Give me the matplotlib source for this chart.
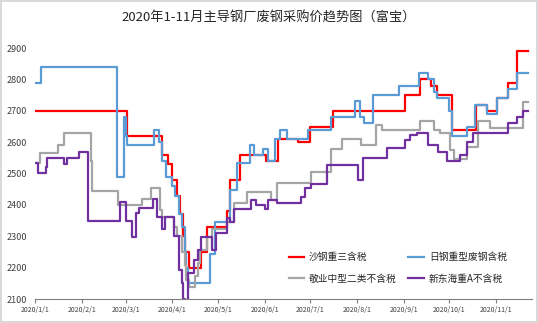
import matplotlib
matplotlib.use('Agg')
import matplotlib.pyplot as plt
import matplotlib.dates as mdates
from matplotlib.ticker import FuncFormatter
import numpy as np

plt.rcParams['font.family'] = ['Noto Sans CJK SC', 'DejaVu Sans']

# days since 2020-01-01 where the price changes, and the new price
sg_days = [0, 61, 84, 88, 91, 94, 96, 98, 99, 102, 110, 114, 127, 129, 136, 153, 161, 174, 182,
           197, 245, 255, 262, 266, 276, 292, 299, 306, 313, 319, 326]
sg_vals = [2700, 2620, 2560, 2530, 2480, 2430, 2370, 2300, 2250, 2200, 2250, 2330, 2380, 2480, 2560,
           2540, 2610, 2600, 2650, 2700, 2750, 2800, 2780, 2750, 2640, 2720, 2700, 2740, 2790, 2890, 2890]

rg_days = [0, 4, 54, 59, 60, 61, 79, 82, 84, 87, 91, 93, 95, 97, 99, 100, 101, 113, 116, 119, 129,
           134, 142, 145, 151, 154, 159, 162, 167, 181, 196, 212, 215, 218, 224, 241, 254, 260, 264,
           266, 274, 276, 286, 291, 299, 306, 313, 319, 326]
rg_vals = [2790, 2840, 2490, 2680, 2620, 2590, 2640, 2600, 2540, 2490, 2460, 2430, 2370, 2330, 2250,
           2200, 2150, 2150, 2245, 2346, 2447, 2533, 2590, 2560, 2580, 2540, 2610, 2640, 2610, 2640,
           2680, 2730, 2680, 2660, 2750, 2780, 2820, 2800, 2760, 2740, 2700, 2620, 2650, 2720, 2690,
           2740, 2770, 2820, 2820]

jy_days = [0, 3, 15, 19, 37, 38, 55, 71, 77, 83, 84, 92, 94, 97, 99, 100, 102, 106, 108, 109, 114,
           117, 127, 132, 140, 156, 160, 183, 196, 203, 216, 226, 230, 255, 264, 268, 275, 277, 286,
           293, 301, 323, 326]
jy_vals = [2535, 2565, 2590, 2630, 2540, 2443, 2400, 2420, 2453, 2384, 2363, 2330, 2300, 2250, 2210,
           2160, 2137, 2174, 2216, 2256, 2298, 2325, 2345, 2405, 2440, 2415, 2470, 2505, 2580, 2610,
           2592, 2654, 2638, 2667, 2640, 2628, 2575, 2548, 2585, 2667, 2646, 2728, 2728]

xdh_days = [0, 2, 7, 8, 19, 21, 29, 35, 56, 60, 64, 67, 69, 78, 81, 84, 86, 92, 95, 97, 98, 99, 101,
            105, 108, 110, 117, 120, 127, 129, 132, 143, 146, 152, 154, 160, 176, 179, 183, 193, 214,
            217, 233, 245, 248, 253, 260, 267, 273, 281, 286, 290, 313, 319, 323, 326]
xdh_vals = [2533, 2501, 2522, 2550, 2530, 2550, 2570, 2349, 2408, 2349, 2299, 2373, 2390, 2420, 2363,
            2325, 2363, 2300, 2192, 2150, 2100, 2085, 2184, 2226, 2256, 2298, 2256, 2310, 2357, 2345,
            2386, 2415, 2399, 2386, 2415, 2405, 2427, 2453, 2468, 2527, 2480, 2551, 2582, 2606, 2622,
            2630, 2592, 2570, 2541, 2560, 2601, 2631, 2662, 2680, 2700, 2700]

labels = ['沙钢重三含税', '日钢重型废钢含税', '敬业中型二类不含税', '新东海重A不含税']
colors = ['#FF0000', '#5B9BD5', '#A5A5A5', '#7030A0']
title = '2020年1-11月主导钢厂废钢采购价趋势图（富宝）'

base = np.datetime64('2020-01-01')

fig = plt.figure(figsize=(5.38, 3.23), dpi=100, linewidth=1.5, edgecolor='#d9d9d9')
ax = fig.add_axes([0.065, 0.074, 0.924, 0.777])

series = [(sg_days, sg_vals), (rg_days, rg_vals), (jy_days, jy_vals), (xdh_days, xdh_vals)]
lines = []
for (d, v), lab, c in zip(series, labels, colors):
    x = base + np.array(d, dtype='timedelta64[D]')
    ln, = ax.plot(x, v, drawstyle='steps-post', color=c, linewidth=1.6, label=lab)
    lines.append(ln)

ax.set_ylim(2100, 2900)
ax.set_yticks(range(2100, 3000, 100))
ax.set_xlim(base, base + np.timedelta64(329, 'D'))
ax.xaxis.set_major_locator(mdates.MonthLocator())
ax.xaxis.set_major_formatter(FuncFormatter(
    lambda v, p: '{0}/{1}/{2}'.format(mdates.num2date(v).year, mdates.num2date(v).month,
                                      mdates.num2date(v).day)))

for s in ['top', 'right', 'left']:
    ax.spines[s].set_visible(False)
ax.spines['bottom'].set_color('#7f7f7f')
ax.tick_params(axis='y', length=0, labelsize=6.5, labelcolor='#404040', pad=6)
ax.tick_params(axis='x', length=3, color='#7f7f7f', labelsize=5, labelcolor='#404040', pad=2)

fig.text(0.5, 0.944, title, ha='center', va='center', fontsize=9.5, color='#262626')

# legend fills column by column, so reorder to get red/blue on the first row
order = [0, 2, 1, 3]
ax.legend([lines[i] for i in order], [labels[i] for i in order],
          loc='lower left', bbox_to_anchor=(0.52, 0.095), bbox_transform=fig.transFigure,
          ncol=2, frameon=False, fontsize=7, handlelength=1.6, handletextpad=0.5,
          columnspacing=1.2, labelspacing=1.15, labelcolor='#262626')

fig.savefig('out.png', dpi=100)
